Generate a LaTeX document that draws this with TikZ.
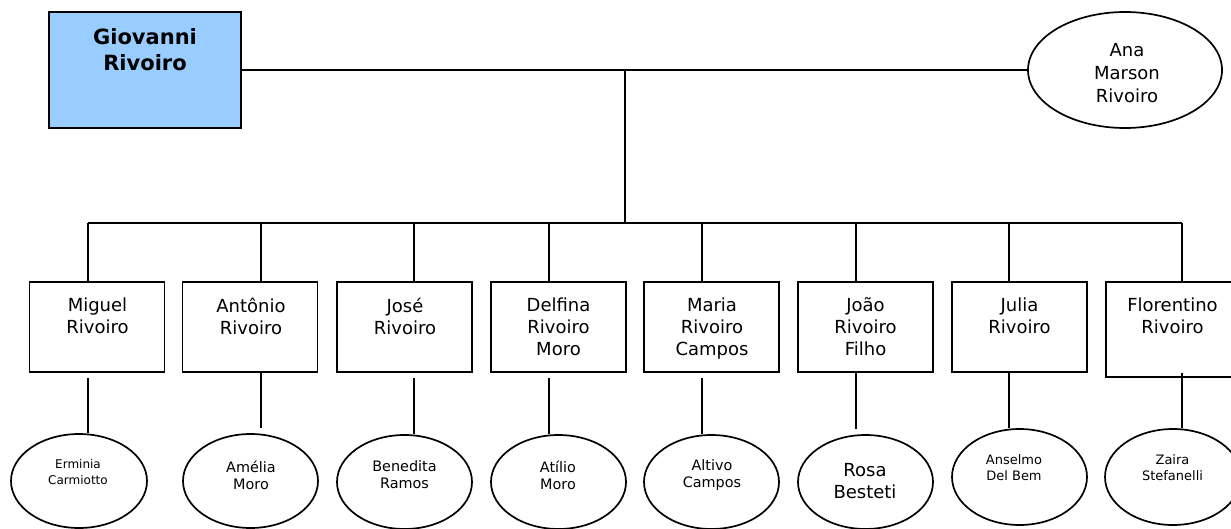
\documentclass[tikz,border=0pt]{standalone}
\usepackage{fontspec}
\setmainfont{DejaVu Sans}
\usetikzlibrary{shapes.geometric}
\definecolor{rootblue}{RGB}{153,204,255}
\begin{document}
\begin{tikzpicture}[x=1pt,y=-1pt,
  wire/.style={line width=1.7pt, draw=black},
  childbox/.style={draw=black, line width=1.7pt, rectangle, minimum width=135pt, minimum height=90pt, inner sep=0pt},
  spousebox/.style={draw=black, line width=1.7pt, ellipse, minimum width=136pt, minimum height=94pt, inner sep=0pt},
  boxtext/.style={align=center, inner sep=0pt, anchor=north, font=\fontsize{18}{22}\selectfont,
                  execute at begin node={\rule{0pt}{15pt}}},
  small/.style={align=center, inner sep=0pt, font=\fontsize{12}{16}\selectfont},
  mid/.style={align=center, inner sep=0pt, font=\fontsize{13}{16}\selectfont},
  medium/.style={align=center, inner sep=0pt, font=\fontsize{14.4}{17}\selectfont},
  large/.style={align=center, inner sep=0pt, font=\fontsize{18}{22}\selectfont},
]
\useasboundingbox (0,0) rectangle (1231,529);

% parents
\node[childbox, fill=rootblue, minimum width=192pt, minimum height=116pt, line width=2pt] (giovanni) at (145,70) {};
\node[align=center, inner sep=0pt, anchor=north, font=\bfseries\fontsize{21}{26}\selectfont] (giovanni-t) at (145,28) {Giovanni\\Rivoiro};
\node[spousebox, minimum width=194pt, minimum height=116pt] (ana) at (1125,70) {};
\node[large, font=\fontsize{18}{23}\selectfont] (ana-t) at (1127,73) {Ana\\Marson\\Rivoiro};

\draw[wire] (giovanni.east) -- (ana.west);
\coordinate (stem) at (625,70);
\coordinate (bus) at (625,223);
\draw[wire] (stem) -- (bus);

% children
\node[childbox] (miguel)    at (97,327)  {};
\node[childbox] (antonio)   at (250,327) {};
\node[childbox] (jose)      at (404.5,327) {};
\node[childbox] (delfina)   at (558.5,327) {};
\node[childbox] (maria)     at (711.5,327) {};
\node[childbox] (joao)      at (865.5,327) {};
\node[childbox] (julia)     at (1019.5,327) {};
\node[childbox, minimum height=95pt] (florentino) at (1173.5,329.5) {};

\node[boxtext] (miguel-t)     at (97.5,297.5)  {Miguel\\Rivoiro};
\node[boxtext] (antonio-t)    at (251,297.5)   {Antônio\\Rivoiro};
\node[boxtext] (jose-t)       at (405,297.5)   {José\\Rivoiro};
\node[boxtext] (delfina-t)    at (558.5,297.5) {Delfina\\Rivoiro\\Moro};
\node[boxtext] (maria-t)      at (712,297.5)   {Maria\\Rivoiro\\Campos};
\node[boxtext] (joao-t)       at (865.5,297.5) {João\\Rivoiro\\Filho};
\node[boxtext] (julia-t)      at (1019.5,297.5){Julia\\Rivoiro};
\node[boxtext] (florentino-t) at (1172.5,297.5){Florentino\\Rivoiro};

% spouses of the children
\node[spousebox] (erminia)  at (79,481)    {};
\node[spousebox, minimum width=135pt] (amelia)   at (250.5,481) {};
\node[spousebox, minimum width=135pt] (benedita) at (404.5,482) {};
\node[spousebox, minimum width=135pt] (atilio)   at (558.5,482) {};
\node[spousebox, minimum width=135pt] (altivo)   at (711.5,482) {};
\node[spousebox, minimum width=135pt] (rosa)     at (865.5,482) {};
\node[spousebox, minimum width=135pt, minimum height=96pt] (anselmo) at (1019.5,477) {};
\node[spousebox, minimum height=96pt] (zaira)    at (1173,477)  {};

\node[small]  (erminia-t)  at (78,472)    {Erminia\\Carmiotto};
\node[medium] (amelia-t)   at (251,475)   {Amélia\\Moro};
\node[medium] (benedita-t) at (404.5,475) {Benedita\\Ramos};
\node[medium] (atilio-t)   at (558,475)   {Atílio\\Moro};
\node[medium] (altivo-t)   at (712,475)   {Altivo\\Campos};
\node[large]  (rosa-t)     at (865,481)   {Rosa\\Besteti};
\node[mid]    (anselmo-t)  at (1014,468)  {Anselmo\\Del Bem};
\node[mid]    (zaira-t)    at (1172.5,468){Zaira\\Stefanelli};

% drop points on the bus
\coordinate (d1) at (88,223);
\coordinate (d2) at (261,223);
\coordinate (d3) at (414,223);
\coordinate (d4) at (549,223);
\coordinate (d5) at (702,223);
\coordinate (d6) at (856,223);
\coordinate (d7) at (1009,223);
\coordinate (d8) at (1182,223);
\draw[wire] (d1) -- (d8);

\foreach \c/\d in {miguel/d1, antonio/d2, jose/d3, delfina/d4, maria/d5, joao/d6, julia/d7, florentino/d8}
  \draw[wire] (\d) -- (\d |- \c.north);

% links from each child to the spouse
\draw[wire] ([yshift=-5pt]d1 |- miguel.south) -- (d1 |- erminia.north);
\draw[wire] (d2 |- antonio.south) -- ([yshift=5pt]d2 |- amelia.north);
\draw[wire] ([yshift=-5pt]d3 |- jose.south) -- (d3 |- benedita.north);
\draw[wire] ([yshift=-5pt]d4 |- delfina.south) -- (d4 |- atilio.north);
\draw[wire] ([yshift=-5pt]d5 |- maria.south) -- (d5 |- altivo.north);
\draw[wire] (d6 |- joao.south) -- ([yshift=5pt]d6 |- rosa.north);
\draw[wire] (d7 |- julia.south) -- (d7 |- anselmo.north);
\draw[wire] ([yshift=5pt]d8 |- florentino.south) -- (d8 |- zaira.north);
\end{tikzpicture}
\end{document}
